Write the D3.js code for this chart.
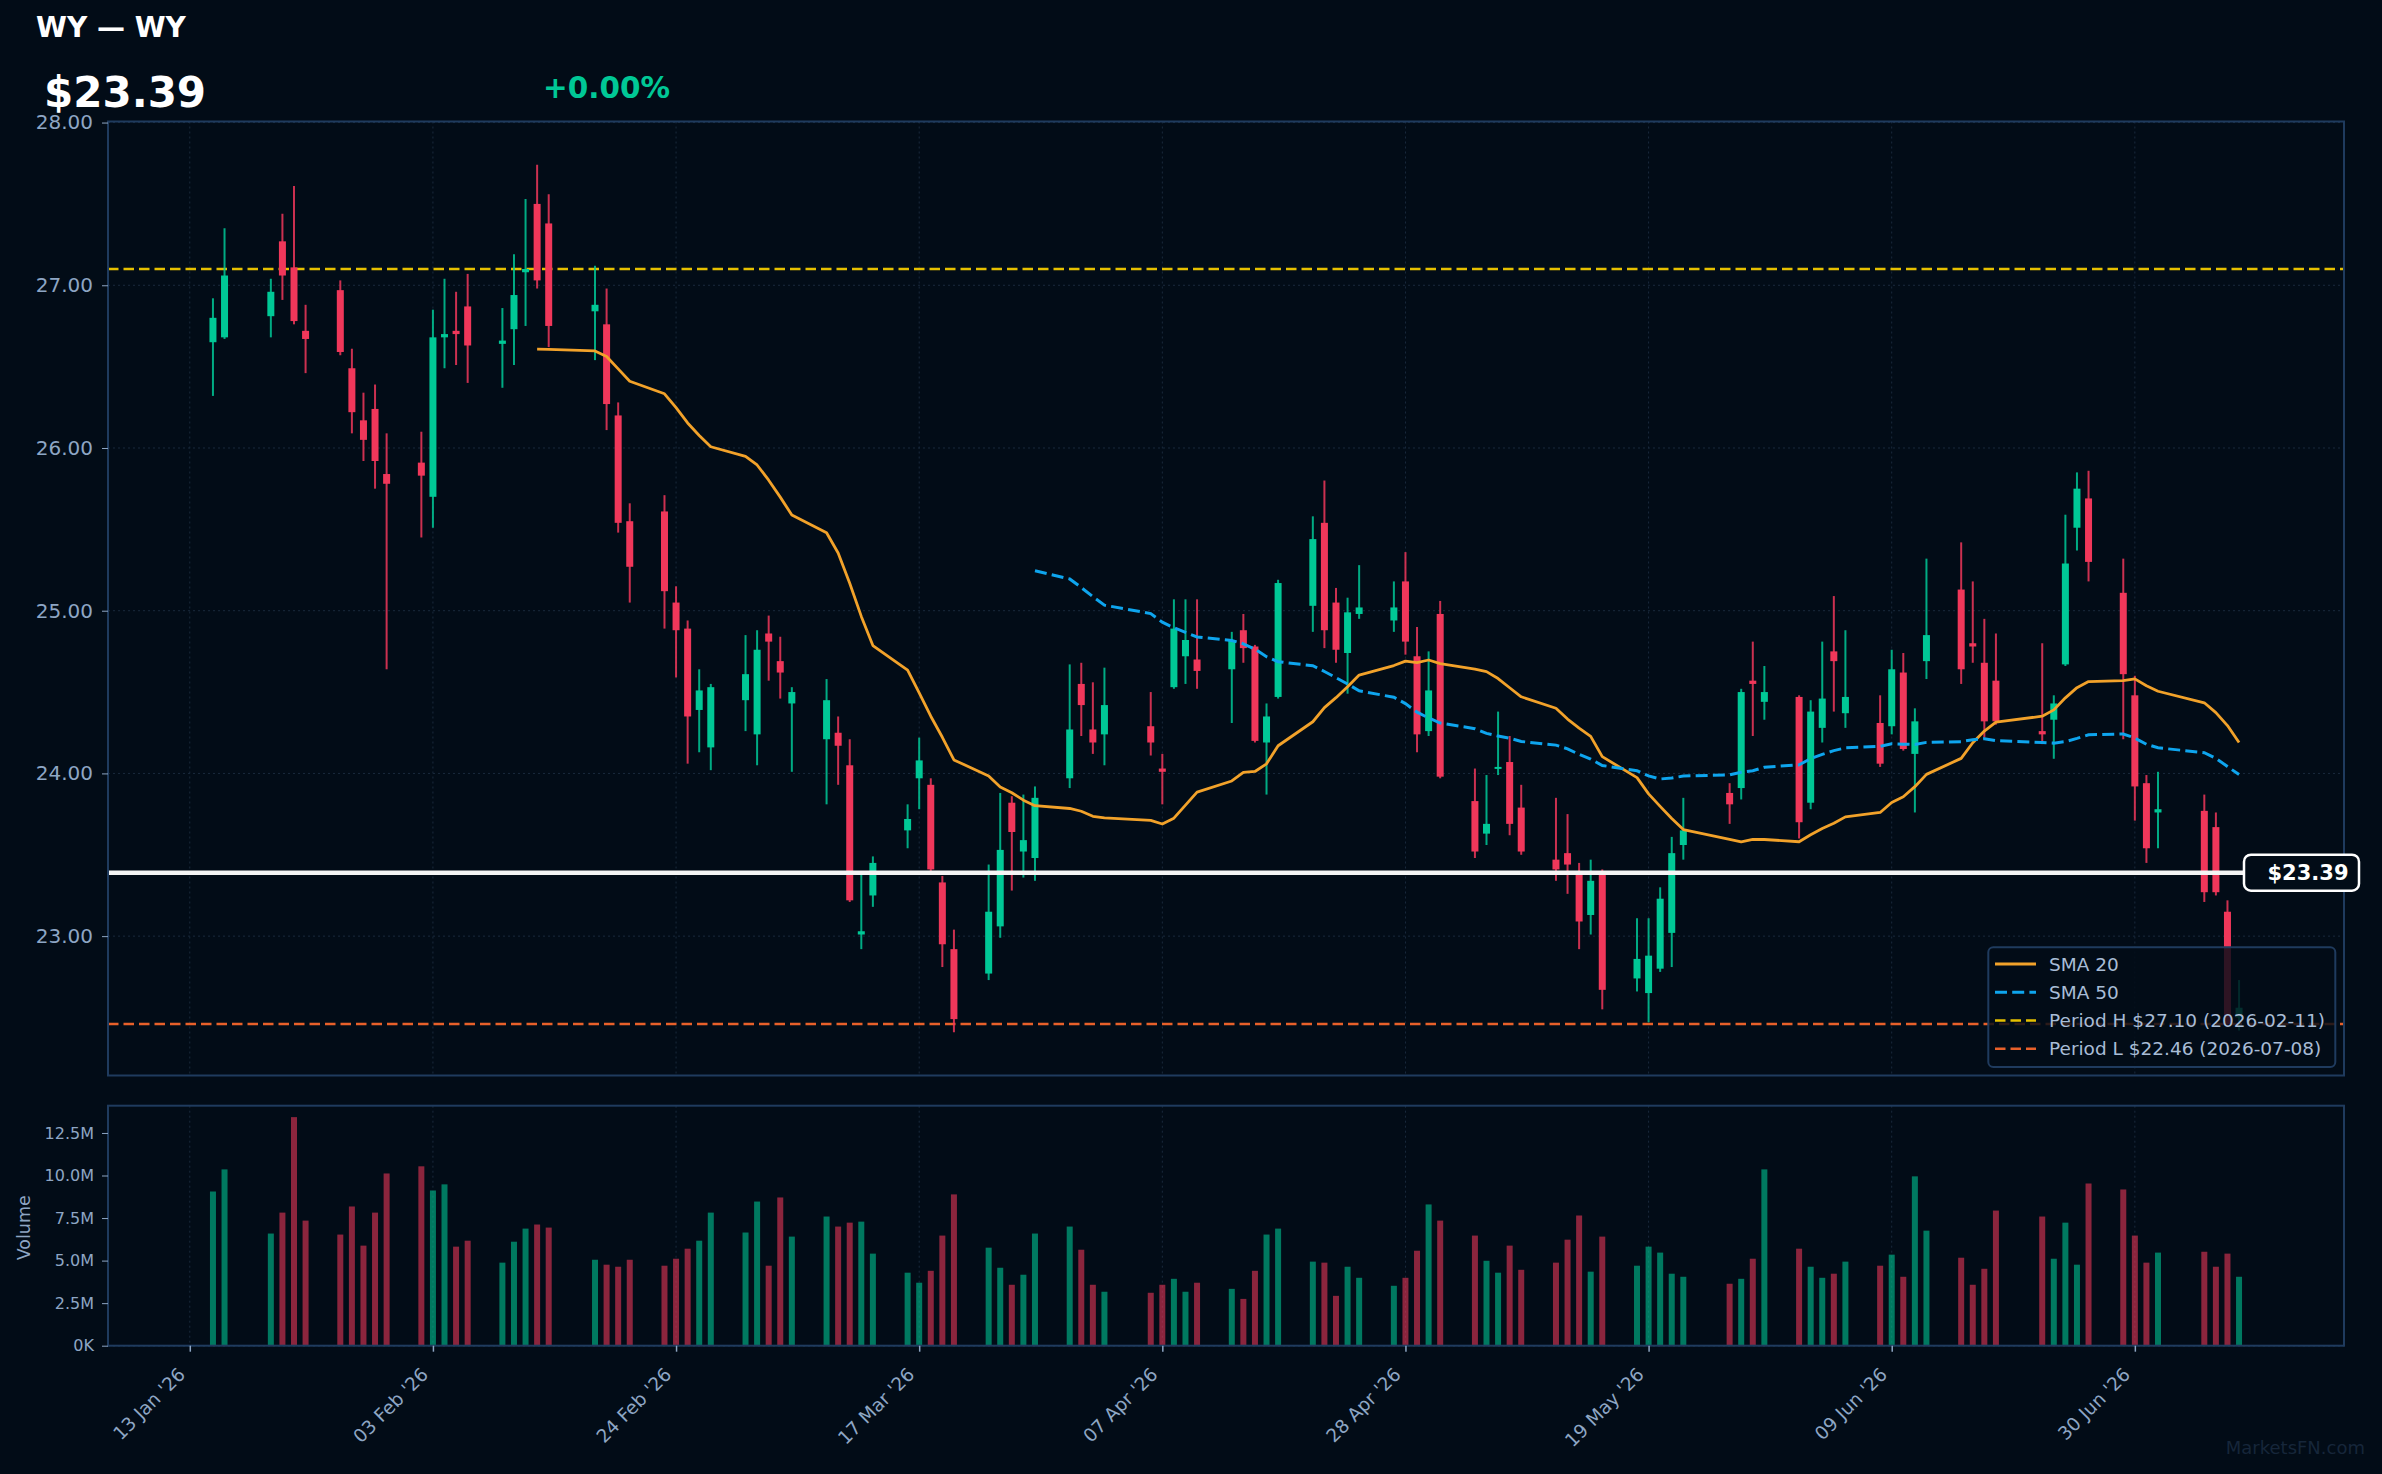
<!DOCTYPE html>
<html><head><meta charset="utf-8">
<script src="https://cdn.jsdelivr.net/npm/d3@7"></script>
<style>
html,body{margin:0;padding:0;background:#020c17;}
svg{display:block;font-family:"DejaVu Sans",sans-serif;}
</style></head><body>
<svg id="chart" width="2382" height="1474"></svg>
<script>
// ---------------- DATA ----------------
const ticker = "WY";
const lastPrice = 23.39;
const changePct = 0.00;
const dates = ["2026-01-15","2026-01-16","2026-01-20","2026-01-21","2026-01-22","2026-01-23","2026-01-26","2026-01-27","2026-01-28","2026-01-29","2026-01-30",
"2026-02-02","2026-02-03","2026-02-04","2026-02-05","2026-02-06","2026-02-09","2026-02-10","2026-02-11","2026-02-12","2026-02-13",
"2026-02-17","2026-02-18","2026-02-19","2026-02-20","2026-02-23","2026-02-24","2026-02-25","2026-02-26","2026-02-27",
"2026-03-02","2026-03-03","2026-03-04","2026-03-05","2026-03-06","2026-03-09","2026-03-10","2026-03-11","2026-03-12","2026-03-13",
"2026-03-16","2026-03-17","2026-03-18","2026-03-19","2026-03-20","2026-03-23","2026-03-24","2026-03-25","2026-03-26","2026-03-27",
"2026-03-30","2026-03-31","2026-04-01","2026-04-02","2026-04-06","2026-04-07","2026-04-08","2026-04-09","2026-04-10",
"2026-04-13","2026-04-14","2026-04-15","2026-04-16","2026-04-17","2026-04-20","2026-04-21","2026-04-22","2026-04-23","2026-04-24",
"2026-04-27","2026-04-28","2026-04-29","2026-04-30","2026-05-01","2026-05-04","2026-05-05","2026-05-06","2026-05-07","2026-05-08",
"2026-05-11","2026-05-12","2026-05-13","2026-05-14","2026-05-15","2026-05-18","2026-05-19","2026-05-20","2026-05-21","2026-05-22",
"2026-05-26","2026-05-27","2026-05-28","2026-05-29","2026-06-01","2026-06-02","2026-06-03","2026-06-04","2026-06-05",
"2026-06-08","2026-06-09","2026-06-10","2026-06-11","2026-06-12","2026-06-15","2026-06-16","2026-06-17","2026-06-18",
"2026-06-22","2026-06-23","2026-06-24","2026-06-25","2026-06-26","2026-06-29","2026-06-30","2026-07-01","2026-07-02",
"2026-07-06","2026-07-07","2026-07-08","2026-07-09"];
const opens = [26.65,26.68,26.81,27.27,27.11,26.72,26.97,26.49,26.17,26.24,25.84,
25.91,25.70,26.68,26.72,26.87,26.64,26.73,27.08,27.50,27.38,
26.84,26.76,26.20,25.55,25.61,25.05,24.89,24.39,24.16,
24.45,24.24,24.86,24.69,24.43,24.21,24.25,24.05,23.01,23.25,
23.65,23.97,23.93,23.33,22.92,22.77,23.06,23.82,23.52,23.48,
23.97,24.55,24.27,24.24,24.29,24.03,24.53,24.72,24.70,
24.64,24.88,24.78,24.19,24.47,25.03,25.54,25.05,24.74,24.98,
24.94,25.18,24.72,24.26,24.98,23.83,23.63,24.03,24.07,23.79,
23.47,23.51,23.38,23.13,23.39,22.74,22.65,22.80,23.02,23.56,
23.88,23.91,24.57,24.44,24.47,23.82,24.28,24.75,24.37,
24.31,24.29,24.62,24.12,24.69,25.13,24.80,24.68,24.57,
24.26,24.33,24.67,25.51,25.69,25.11,24.48,23.94,23.76,
23.77,23.67,23.15,22.50];
const highs = [26.92,27.35,27.04,27.44,27.61,26.88,27.03,26.61,26.34,26.39,26.09,
26.10,26.85,27.04,26.96,27.07,26.86,27.19,27.53,27.74,27.56,
27.12,26.98,26.28,25.66,25.71,25.15,24.94,24.64,24.55,
24.85,24.88,24.97,24.84,24.53,24.58,24.35,24.21,23.38,23.49,
23.81,24.22,23.97,23.37,23.04,23.44,23.88,23.86,23.87,23.92,
24.67,24.68,24.56,24.65,24.50,24.12,25.07,25.07,25.07,
24.87,24.98,24.79,24.43,25.19,25.58,25.80,25.14,25.08,25.28,
25.18,25.36,24.90,24.75,25.06,24.03,23.99,24.38,24.23,23.93,
23.85,23.75,23.45,23.47,23.41,23.11,23.11,23.30,23.61,23.85,
23.94,24.52,24.81,24.66,24.48,24.45,24.81,25.09,24.88,
24.48,24.76,24.74,24.40,25.32,25.42,25.18,24.95,24.86,
24.80,24.48,25.59,25.85,25.86,25.32,24.60,23.99,24.01,
23.87,23.76,23.22,22.73];
const lows = [26.32,26.67,26.68,26.91,26.76,26.46,26.57,26.09,25.92,25.75,24.64,
25.45,25.51,26.49,26.51,26.40,26.37,26.51,26.75,26.98,26.62,
26.54,26.11,25.48,25.05,24.89,24.59,24.06,24.13,24.02,
24.26,24.05,24.57,24.46,24.01,23.81,23.93,23.21,22.92,23.18,
23.54,23.78,23.40,22.81,22.41,22.73,22.99,23.28,23.36,23.34,
23.91,24.23,24.12,24.05,24.11,23.81,24.52,24.55,24.52,
24.31,24.68,24.19,23.87,24.46,24.87,24.77,24.68,24.49,24.95,
24.87,24.73,24.13,24.23,23.97,23.48,23.56,23.99,23.62,23.50,
23.34,23.26,22.92,23.01,22.55,22.66,22.47,22.78,22.81,23.47,
23.69,23.84,24.23,24.33,23.60,23.78,24.19,24.38,24.28,
24.04,24.24,24.14,23.76,24.58,24.55,24.68,24.22,24.30,
24.18,24.09,24.66,25.37,25.18,24.21,23.71,23.45,23.54,
23.21,23.25,22.44,22.42];
const closes = [26.80,27.06,26.96,27.06,26.78,26.67,26.59,26.22,26.05,25.92,25.78,
25.83,26.68,26.70,26.70,26.63,26.66,26.94,27.10,27.03,26.75,
26.88,26.27,25.54,25.27,25.12,24.88,24.35,24.51,24.53,
24.61,24.76,24.81,24.62,24.50,24.45,24.17,23.22,23.03,23.45,
23.72,24.08,23.41,22.95,22.49,23.15,23.53,23.64,23.59,23.85,
24.27,24.42,24.19,24.42,24.19,24.01,24.89,24.82,24.63,
24.82,24.77,24.20,24.35,25.17,25.44,24.88,24.76,24.99,25.02,
25.02,24.81,24.24,24.51,23.98,23.52,23.69,24.04,23.69,23.52,
23.41,23.44,23.09,23.34,22.67,22.86,22.88,23.23,23.51,23.65,
23.81,24.50,24.55,24.50,23.70,24.38,24.46,24.69,24.47,
24.06,24.64,24.15,24.32,24.85,24.64,24.78,24.32,24.32,
24.24,24.43,25.29,25.75,25.30,24.61,23.92,23.54,23.78,
23.27,23.27,22.46,22.56];
const volumesM = [9.06,10.36,6.59,7.82,13.43,7.35,6.53,8.18,5.88,7.82,10.12,
10.54,9.12,9.48,5.82,6.17,4.88,6.11,6.88,7.12,6.94,
5.05,4.76,4.64,5.05,4.70,5.11,5.70,6.17,7.82,
6.65,8.47,4.70,8.71,6.41,7.59,7.00,7.23,7.29,5.41,
4.29,3.70,4.40,6.47,8.89,5.76,4.58,3.58,4.17,6.59,
7.00,5.64,3.58,3.17,3.11,3.58,3.93,3.17,3.70,
3.34,2.75,4.40,6.53,6.88,4.94,4.88,2.93,4.64,3.99,
3.52,3.99,5.58,8.30,7.35,6.47,4.99,4.29,5.88,4.46,
4.88,6.23,7.65,4.35,6.41,4.70,5.82,5.47,4.23,4.05,
3.64,3.93,5.11,10.36,5.70,4.64,3.99,4.23,4.94,
4.70,5.35,4.05,9.95,6.76,5.17,3.58,4.52,7.94,
7.59,5.11,7.23,4.76,9.53,9.18,6.47,4.88,5.47,
5.52,4.64,5.41,4.05];
const xTickDates = ["2026-01-13","2026-02-03","2026-02-24","2026-03-17","2026-04-07","2026-04-28","2026-05-19","2026-06-09","2026-06-30"];
const priceTicks = [23,24,25,26,27,28];
const volumeTicks = [0,2.5,5,7.5,10,12.5];

// ---------------- LAYOUT / STYLE ----------------
const C = {
  bg:"#020c17", frame:"#1f3b5e", grid:"#1a2a3d", tick:"#8ea6c4",
  up:"#00c896", down:"#f0375a", sma20:"#f2a22a", sma50:"#0ea5ee",
  hiLine:"#e6c000", loLine:"#e8602a", legendText:"#a8bcd6"
};
const P = {left:108, right:2344, top:121.5, bottom:1075.5};
const V = {left:108, right:2344, top:1105.7, bottom:1345.7};

const parse = d3.utcParse("%Y-%m-%d");
const data = dates.map((d,i)=>({date:parse(d), o:opens[i], h:highs[i], l:lows[i], c:closes[i], v:volumesM[i]*1e6}));

function sma(n){
  return data.map((d,i)=>{
    if(i<n-1) return null;
    let s=0; for(let k=i-n+1;k<=i;k++) s+=data[k].c;
    return {date:d.date, v:s/n};
  }).filter(d=>d);
}
const sma20 = sma(20), sma50 = sma(50);

const first = data[0].date, last = data[data.length-1].date;
const span = last - first;
const xPad = span*0.0518;
const x = d3.scaleUtc().domain([new Date(+first - xPad), new Date(+last + xPad)]).range([P.left, P.right]);

const lo = d3.min(data,d=>d.l), hi = d3.max(data,d=>d.h), yPad=(hi-lo)*0.05;
const y = d3.scaleLinear().domain([lo-yPad, hi+yPad]).range([P.bottom, P.top]);
const vy = d3.scaleLinear().domain([0, d3.max(data,d=>d.v)*1.05]).range([V.bottom, V.top]);

const svg = d3.select("#chart");
svg.append("rect").attr("width",2382).attr("height",1474).attr("fill",C.bg);

const defs = svg.append("defs");
defs.append("clipPath").attr("id","pclip").append("rect")
  .attr("x",P.left).attr("y",P.top).attr("width",P.right-P.left).attr("height",P.bottom-P.top);

// ---------- header ----------
svg.append("text").attr("x",36).attr("y",36.5).attr("fill","#ffffff")
  .attr("font-size",28).attr("font-weight","bold").text(`${ticker} — ${ticker}`);
svg.append("text").attr("x",44).attr("y",106.5).attr("fill","#ffffff")
  .attr("font-size",42).attr("font-weight","bold").text(`$${lastPrice.toFixed(2)}`);
svg.append("text").attr("x",543).attr("y",98).attr("fill",C.up)
  .attr("font-size",29.5).attr("font-weight","bold").text(`${changePct>=0?"+":""}${changePct.toFixed(2)}%`);

// ---------- grids ----------
const xTicks = xTickDates.map(parse);
function grid(area, yScale, yTicks){
  const g = svg.append("g");
  g.selectAll(".hg").data(yTicks).join("line")
    .attr("x1",area.left).attr("x2",area.right)
    .attr("y1",d=>yScale(d)).attr("y2",d=>yScale(d))
    .attr("stroke",C.grid).attr("stroke-width",1).attr("stroke-dasharray","2,3");
  g.selectAll(".vg").data(xTicks).join("line")
    .attr("x1",d=>x(d)).attr("x2",d=>x(d))
    .attr("y1",area.top).attr("y2",area.bottom)
    .attr("stroke",C.grid).attr("stroke-width",1).attr("stroke-dasharray","2,3");
}
grid(P, y, priceTicks);
grid(V, vy, volumeTicks);

// ---------- period hi/lo ----------
const maxC = d3.max(data,d=>d.c), minC = d3.min(data,d=>d.c);
const hiD = data.find(d=>d.c===maxC), loD = data.find(d=>d.c===minC);
const fmtD = d3.utcFormat("%Y-%m-%d");
const pg = svg.append("g").attr("clip-path","url(#pclip)");
pg.append("line").attr("x1",P.left).attr("x2",P.right).attr("y1",y(maxC)).attr("y2",y(maxC))
  .attr("stroke",C.hiLine).attr("stroke-width",2.5).attr("stroke-dasharray","10.5,5");
pg.append("line").attr("x1",P.left).attr("x2",P.right).attr("y1",y(minC)).attr("y2",y(minC))
  .attr("stroke",C.loLine).attr("stroke-width",2.5).attr("stroke-dasharray","10.5,5");

// ---------- candles ----------
const bodyW = 7, wickW = 2;
const cg = pg.append("g");
cg.selectAll("line.w").data(data).join("line")
  .attr("x1",d=>x(d.date)).attr("x2",d=>x(d.date))
  .attr("y1",d=>y(d.h)).attr("y2",d=>y(d.l))
  .attr("stroke",d=>d.c>=d.o?C.up:C.down).attr("stroke-width",wickW).attr("stroke-opacity",0.85);
cg.selectAll("rect.b").data(data).join("rect")
  .attr("x",d=>x(d.date)-bodyW/2).attr("width",bodyW)
  .attr("y",d=>y(Math.max(d.o,d.c)))
  .attr("height",d=>Math.max(2,Math.abs(y(d.o)-y(d.c))))
  .attr("fill",d=>d.c>=d.o?C.up:C.down);

// ---------- SMAs ----------
const line = d3.line().x(d=>x(d.date)).y(d=>y(d.v));
pg.append("path").datum(sma20).attr("d",line).attr("fill","none")
  .attr("stroke",C.sma20).attr("stroke-width",2.8).attr("stroke-linejoin","round");
pg.append("path").datum(sma50).attr("d",line).attr("fill","none")
  .attr("stroke",C.sma50).attr("stroke-width",3).attr("stroke-dasharray","12,5.2");

// ---------- last price line ----------
pg.append("line").attr("x1",P.left).attr("x2",P.right).attr("y1",y(lastPrice)).attr("y2",y(lastPrice))
  .attr("stroke","#f4f4f4").attr("stroke-width",4.5);

// ---------- volume bars ----------
svg.append("g").selectAll("rect").data(data).join("rect")
  .attr("x",d=>x(d.date)-3).attr("width",6)
  .attr("y",d=>vy(d.v)).attr("height",d=>V.bottom-vy(d.v))
  .attr("fill",d=>d.c>=d.o?C.up:C.down).attr("fill-opacity",0.58);

// ---------- frames ----------
[P,V].forEach(a=>svg.append("rect").attr("x",a.left).attr("y",a.top)
  .attr("width",a.right-a.left).attr("height",a.bottom-a.top)
  .attr("fill","none").attr("stroke",C.frame).attr("stroke-width",2));

// ---------- axes ----------
const yAxis = d3.axisLeft(y).tickValues(priceTicks).tickFormat(d3.format(".2f")).tickSize(6).tickPadding(9);
const gy = svg.append("g").attr("transform",`translate(${P.left},0)`).call(yAxis);
gy.select(".domain").remove();
gy.selectAll("line").attr("stroke",C.tick);
gy.selectAll("text").attr("fill",C.tick).attr("font-size",20).attr("font-family","DejaVu Sans");

const vAxis = d3.axisLeft(vy).tickValues(volumeTicks.map(v=>v*1e6))
  .tickFormat(v=>v===0?"0K":(v/1e6).toFixed(1)+"M").tickSize(6).tickPadding(8);
const gv = svg.append("g").attr("transform",`translate(${V.left},0)`).call(vAxis);
gv.select(".domain").remove();
gv.selectAll("line").attr("stroke",C.tick);
gv.selectAll("text").attr("fill",C.tick).attr("font-size",16).attr("font-family","DejaVu Sans");

const fmtX = d3.utcFormat("%d %b '%y");
const xAxis = d3.axisBottom(x).tickValues(xTicks).tickFormat(fmtX).tickSize(6).tickPadding(0);
const gx = svg.append("g").attr("transform",`translate(0,${V.bottom})`).call(xAxis);
gx.select(".domain").remove();
gx.selectAll("line").attr("stroke",C.tick).attr("stroke-width",1.5);
gx.selectAll("text").attr("fill",C.tick).attr("font-size",18.5).attr("font-family","DejaVu Sans")
  .attr("text-anchor","end").attr("dy",0).attr("y",0)
  .attr("transform","translate(-4,30) rotate(-45)");

svg.append("text").attr("transform","translate(30,1227.8) rotate(-90)")
  .attr("text-anchor","middle").attr("fill",C.tick).attr("font-size",17.5).text("Volume");

// ---------- legend ----------
const L = {x:1988.3, y:947.3, w:347, h:119.7};
const lg = svg.append("g");
lg.append("rect").attr("x",L.x).attr("y",L.y).attr("width",L.w).attr("height",L.h).attr("rx",5)
  .attr("fill",C.bg).attr("fill-opacity",0.82).attr("stroke",C.frame).attr("stroke-width",2);
const items = [
  {label:"SMA 20", color:C.sma20, dash:null, w:2.8},
  {label:"SMA 50", color:C.sma50, dash:"12,5.2", w:3},
  {label:`Period H $${maxC.toFixed(2)} (${fmtD(hiD.date)})`, color:C.hiLine, dash:"10.5,5", w:2.5},
  {label:`Period L $${minC.toFixed(2)} (${fmtD(loD.date)})`, color:C.loLine, dash:"10.5,5", w:2.5}
];
items.forEach((it,i)=>{
  const cy = 964 + i*28.25;
  lg.append("line").attr("x1",1995).attr("x2",2036).attr("y1",cy).attr("y2",cy)
    .attr("stroke",it.color).attr("stroke-width",it.w).attr("stroke-dasharray",it.dash);
  lg.append("text").attr("x",2049).attr("y",cy+6.6).attr("fill",C.legendText)
    .attr("font-size",18.5).text(it.label);
});

// ---------- last price tag ----------
const ty = y(lastPrice);
svg.append("rect").attr("x",2244).attr("y",ty-18).attr("width",115).attr("height",36).attr("rx",7)
  .attr("fill",C.bg).attr("stroke","#ffffff").attr("stroke-width",2.5);
svg.append("text").attr("x",2308).attr("y",ty+7.5).attr("text-anchor","middle").attr("fill","#ffffff")
  .attr("font-size",21).attr("font-weight","bold").text(`$${lastPrice.toFixed(2)}`);

// ---------- watermark ----------
svg.append("text").attr("x",2365).attr("y",1454).attr("text-anchor","end").attr("fill","#16263a")
  .attr("font-size",18).text("MarketsFN.com");
</script>
</body></html>
